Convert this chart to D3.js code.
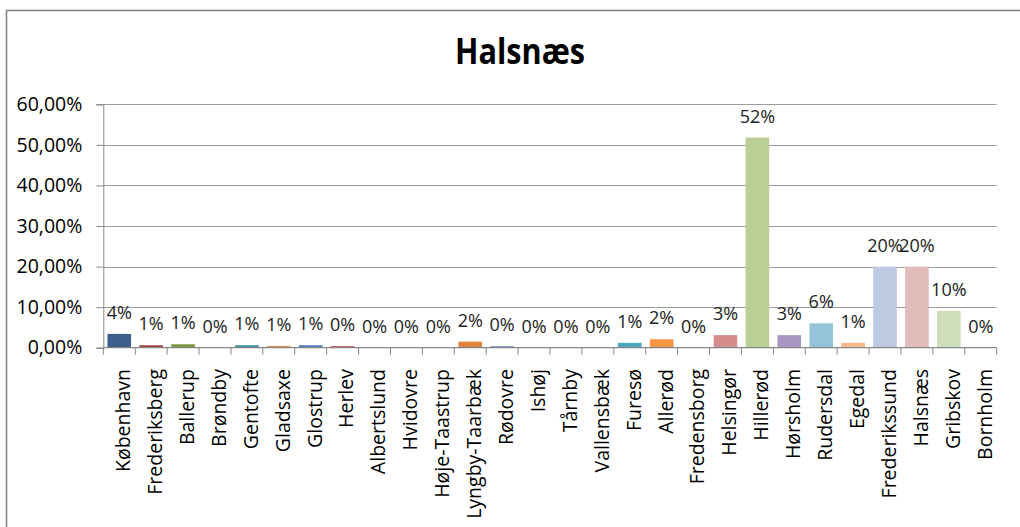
<!DOCTYPE html>
<html><head><meta charset="utf-8">
<script src="https://cdn.jsdelivr.net/npm/d3@7"></script>
<style>body{margin:0;background:#fff}svg{display:block}</style>
</head><body>
<svg id="c" width="1020" height="527"></svg>
<script>
const categories = ["København","Frederiksberg","Ballerup","Brøndby","Gentofte","Gladsaxe","Glostrup","Herlev","Albertslund","Hvidovre","Høje-Taastrup","Lyngby-Taarbæk","Rødovre","Ishøj","Tårnby","Vallensbæk","Furesø","Allerød","Fredensborg","Helsingør","Hillerød","Hørsholm","Rudersdal","Egedal","Frederikssund","Halsnæs","Gribskov","Bornholm"];
const values = [3.4,0.6,0.85,0,0.6,0.45,0.6,0.4,0,0,0,1.5,0.4,0,0,0,1.2,2.1,0,3.1,51.8,3.1,6.0,1.2,20,20,9.1,0];
const dataLabels = ["4%","1%","1%","0%","1%","1%","1%","0%","0%","0%","0%","2%","0%","0%","0%","0%","1%","2%","0%","3%","52%","3%","6%","1%","20%","20%","10%","0%"];
const yTicks = [0,10,20,30,40,50,60];
const yTickLabels = ["0,00%","10,00%","20,00%","30,00%","40,00%","50,00%","60,00%"];
const colors = ["#3B5E8C","#A13F3D","#7A9A41","#654E82","#3590A8","#E0965C","#4A78B4","#C45A58","#9BBB59","#8064A2","#4BACC6","#E0843F","#7F9FCF","#CD7371","#AFCA7A","#9B83B9","#4AA8C2","#F79646","#95B3D7","#D48D8C","#BACF93","#A997C1","#92C5D7","#F9B98B","#BCCAE2","#E2BBBB","#D0DFBA","#CCC1DA"];
const title = "Halsnæs";

const svg = d3.select("#c");
const font = "'Open Sans', sans-serif";
const L = 103.3, R = 996.7, T = 104.3, B = 347.7;

svg.append("rect").attr("x",6.5).attr("y",10.5).attr("width",1030).attr("height",540)
  .attr("fill","#fff").attr("stroke","#868686").attr("stroke-width",1.6);

svg.append("text").attr("x",520).attr("y",63.5).attr("text-anchor","middle")
  .style("font-family",font).style("font-weight","bold").style("font-size","35px")
  .attr("textLength",130).attr("lengthAdjust","spacingAndGlyphs").attr("fill","#000").text(title);

const x = d3.scaleBand().domain(categories).range([L,R]).paddingInner(0.26).paddingOuter(0.13);
const y = d3.scaleLinear().domain([0,60]).range([B,T]);

// gridlines
svg.append("g").selectAll("line").data(yTicks.slice(1)).join("line")
  .attr("x1",L).attr("x2",R).attr("y1",d=>Math.round(y(d))+0.5).attr("y2",d=>Math.round(y(d))+0.5)
  .attr("stroke","#9c9c9c").attr("stroke-width",1);

// y axis
const yAxis = d3.axisLeft(y).tickValues(yTicks).tickSize(7).tickPadding(14)
  .tickFormat((d,i)=>yTickLabels[i]);
const gy = svg.append("g").attr("transform",`translate(${L},0)`).call(yAxis);
gy.attr("font-size",null).attr("font-family",null);
gy.select(".domain").attr("stroke","#868686");
gy.selectAll(".tick line").attr("stroke","#868686");
gy.selectAll(".tick text").style("font-family",font).style("font-size","19.5px").attr("fill","#000");

// bars
svg.append("g").selectAll("rect").data(categories).join("rect")
  .attr("x",d=>x(d)).attr("width",x.bandwidth())
  .attr("y",(d,i)=>y(values[i])).attr("height",(d,i)=>B-y(values[i]))
  .attr("fill",(d,i)=>colors[i]);

// x axis
const boundaries = d3.range(categories.length+1).map(i=>L+i*(R-L)/categories.length);
const gx = svg.append("g");
gx.append("line").attr("x1",L).attr("x2",R).attr("y1",B).attr("y2",B).attr("stroke","#868686").attr("stroke-width",1.3);
gx.selectAll("line.t").data(boundaries).join("line").attr("class","t")
  .attr("x1",d=>d).attr("x2",d=>d).attr("y1",B).attr("y2",B+7).attr("stroke","#868686");
gx.selectAll("text").data(categories).join("text")
  .attr("transform",d=>`translate(${x(d)+x.bandwidth()/2+4},369) rotate(-90)`)
  .attr("text-anchor","end").attr("dy","0.35em")
  .style("font-family",font).style("font-size","19.5px").attr("fill","#000").text(d=>d);

// data labels
svg.append("g").selectAll("text").data(categories).join("text")
  .attr("x",d=>x(d)+x.bandwidth()/2).attr("y",(d,i)=>y(values[i])-15)
  .attr("text-anchor","middle").style("font-family",font).style("font-size","18px").attr("fill","#222")
  .text((d,i)=>dataLabels[i]);
</script>
</body></html>
